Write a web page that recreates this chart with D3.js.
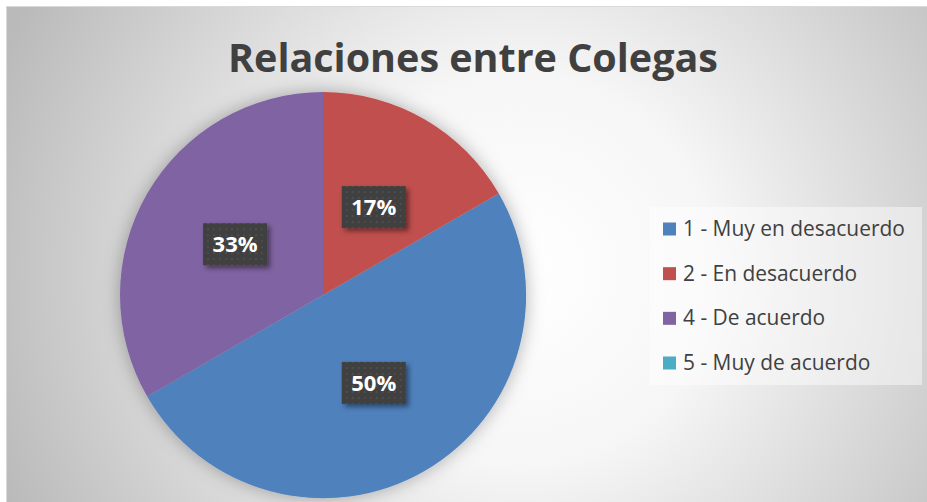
<!DOCTYPE html>
<html>
<head>
<meta charset="utf-8">
<script src="https://cdn.jsdelivr.net/npm/d3@7"></script>
<style>
  html, body { margin: 0; padding: 0; background: #fff; }
  svg { display: block; }
</style>
</head>
<body>
<script>
// Chart data
var categories = ["1 - Muy en desacuerdo", "2 - En desacuerdo", "4 - De acuerdo", "5 - Muy de acuerdo"];
var counts = [3, 1, 2, 0];
var sliceColors = ["#4F81BD", "#C0504D", "#8064A2", "#4BACC6"];
var chartTitle = "Relaciones entre Colegas";

var svgWidth = 927;
var svgHeight = 502;

var svg = d3.select("body")
  .append("svg")
  .attr("width", svgWidth)
  .attr("height", svgHeight);

var defs = svg.append("defs");

// Background radial gradient (white center fading to gray)
var bg = defs.append("radialGradient")
  .attr("id", "bgGrad")
  .attr("gradientUnits", "userSpaceOnUse")
  .attr("cx", 520).attr("cy", 270).attr("r", 560);
bg.append("stop").attr("offset", "0%").attr("stop-color", "#ffffff");
bg.append("stop").attr("offset", "35%").attr("stop-color", "#f6f6f6");
bg.append("stop").attr("offset", "100%").attr("stop-color", "#bababa");

// Soft shadow around the pie
var pieShadow = defs.append("filter")
  .attr("id", "pieShadow")
  .attr("x", "-20%").attr("y", "-20%").attr("width", "140%").attr("height", "140%");
pieShadow.append("feDropShadow")
  .attr("dx", 0).attr("dy", 0)
  .attr("stdDeviation", 9)
  .attr("flood-color", "#000")
  .attr("flood-opacity", 0.3);

// Shadow for data label boxes
var boxShadow = defs.append("filter")
  .attr("id", "boxShadow")
  .attr("x", "-30%").attr("y", "-30%").attr("width", "160%").attr("height", "160%");
boxShadow.append("feDropShadow")
  .attr("dx", 3).attr("dy", 3)
  .attr("stdDeviation", 2.5)
  .attr("flood-color", "#000")
  .attr("flood-opacity", 0.45);

// Dotted texture for the label boxes
var dots = defs.append("pattern")
  .attr("id", "dots")
  .attr("patternUnits", "userSpaceOnUse")
  .attr("width", 6).attr("height", 6);
dots.append("rect").attr("width", 6).attr("height", 6).attr("fill", "#3f3f3f");
dots.append("rect").attr("x", 2).attr("y", 2).attr("width", 2).attr("height", 2).attr("fill", "#4e4e4e");

// Chart area background + border
svg.append("rect")
  .attr("x", 6.5).attr("y", 6.5)
  .attr("width", svgWidth - 6).attr("height", svgHeight - 5)
  .attr("fill", "url(#bgGrad)")
  .attr("stroke", "#d9d9d9")
  .attr("stroke-width", 1);

// Title
svg.append("text")
  .attr("x", 473)
  .attr("y", 72)
  .attr("text-anchor", "middle")
  .attr("font-family", "'Open Sans', 'Noto Sans', sans-serif")
  .attr("font-weight", "bold")
  .attr("font-size", 40)
  .attr("fill", "#404040")
  .attr("textLength", 490)
  .attr("lengthAdjust", "spacingAndGlyphs")
  .text(chartTitle);

// Pie
var cx = 323, cy = 295, radius = 203;
var total = d3.sum(counts);

var pieData = categories.map(function (c, i) {
  return { name: c, value: counts[i], color: sliceColors[i] };
});

var pie = d3.pie()
  .value(function (d) { return d.value; })
  .startAngle(Math.PI / 3)
  .endAngle(Math.PI / 3 + 2 * Math.PI);

var arc = d3.arc().innerRadius(0).outerRadius(radius);

var pieGroup = svg.append("g")
  .attr("transform", "translate(" + cx + "," + cy + ")");

var arcs = pie(pieData).filter(function (d) { return d.data.value > 0; });

pieGroup.append("g")
  .attr("filter", "url(#pieShadow)")
  .selectAll("path")
  .data(arcs)
  .enter()
  .append("path")
  .attr("d", arc)
  .attr("fill", function (d) { return d.data.color; });

// Data labels
var labels = pieGroup.selectAll("g.label")
  .data(arcs)
  .enter()
  .append("g")
  .attr("class", "label")
  .attr("transform", function (d) {
    var c = arc.centroid(d);
    return "translate(" + c[0] + "," + c[1] + ")";
  });

labels.append("rect")
  .attr("x", -32).attr("y", -21)
  .attr("width", 64).attr("height", 42)
  .attr("fill", "url(#dots)")
  .attr("filter", "url(#boxShadow)");

labels.append("text")
  .attr("text-anchor", "middle")
  .attr("y", 8)
  .attr("font-family", "'Open Sans', 'Noto Sans', sans-serif")
  .attr("font-weight", "bold")
  .attr("font-size", 22)
  .attr("fill", "#ffffff")
  .text(function (d) { return Math.round(d.data.value / total * 100) + "%"; });

// Legend
var legend = svg.append("g");
legend.append("rect")
  .attr("x", 650).attr("y", 207)
  .attr("width", 272).attr("height", 178)
  .attr("fill", "#ffffff")
  .attr("fill-opacity", 0.45);

var rowY = d3.scalePoint()
  .domain(categories)
  .range([229, 363]);

var items = legend.selectAll("g.item")
  .data(pieData)
  .enter()
  .append("g")
  .attr("class", "item")
  .attr("transform", function (d) { return "translate(663," + rowY(d.name) + ")"; });

items.append("rect")
  .attr("x", 0).attr("y", -6.5)
  .attr("width", 13).attr("height", 13)
  .attr("fill", function (d) { return d.color; });

var legendText = items.append("text")
  .attr("x", 20)
  .attr("y", 7)
  .attr("font-family", "'Open Sans', 'Noto Sans', sans-serif")
  .attr("font-size", 20)
  .attr("fill", "#404040")
  .text(function (d) { return d.name; });

// Scale legend font so the longest entry matches the reference width
var firstWidth = legendText.node().getComputedTextLength();
var legendSize = 20 * 222 / firstWidth;
legendText.attr("font-size", legendSize);
</script>
</body>
</html>
